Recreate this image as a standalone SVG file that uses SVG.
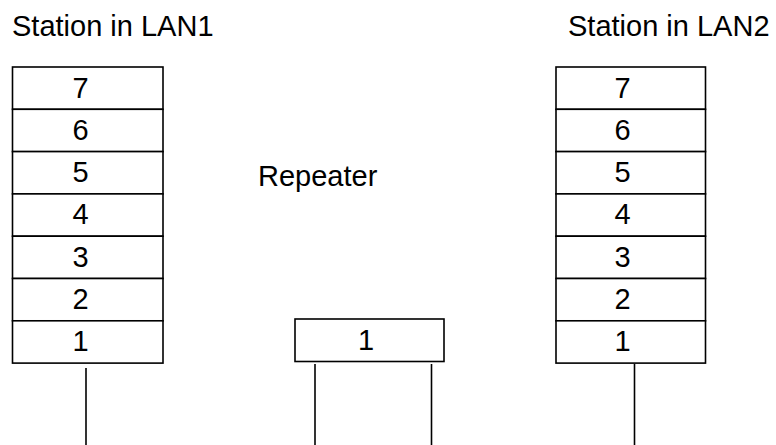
<svg xmlns="http://www.w3.org/2000/svg" width="776" height="445" viewBox="0 0 776 445">
<style>
.box{fill:#fff;stroke:#000;stroke-width:1.6}
.ln{stroke:#000;stroke-width:1.6;fill:none}
text{font-family:"Liberation Sans",Arial,sans-serif;font-size:29px;fill:#000}
.d{text-anchor:middle}
</style>
<rect width="776" height="445" fill="#fff"/>
<text x="12" y="36">Station in LAN1</text>
<text x="568" y="36">Station in LAN2</text>
<text x="258" y="186">Repeater</text>
<g id="station1">
<rect class="box" x="12.5" y="67" width="150.5" height="42.3"/>
<rect class="box" x="12.5" y="109.3" width="150.5" height="42.3"/>
<rect class="box" x="12.5" y="151.6" width="150.5" height="42.3"/>
<rect class="box" x="12.5" y="193.9" width="150.5" height="42.3"/>
<rect class="box" x="12.5" y="236.2" width="150.5" height="42.3"/>
<rect class="box" x="12.5" y="278.5" width="150.5" height="42.3"/>
<rect class="box" x="12.5" y="320.8" width="150.5" height="42.3"/>
<text class="d" x="80.5" y="97.5">7</text>
<text class="d" x="80.5" y="139.8">6</text>
<text class="d" x="80.5" y="182.1">5</text>
<text class="d" x="80.5" y="224.4">4</text>
<text class="d" x="80.5" y="266.7">3</text>
<text class="d" x="80.5" y="309">2</text>
<text class="d" x="80.5" y="351">1</text>
</g>
<g id="station2">
<rect class="box" x="556" y="67" width="149.5" height="42.3"/>
<rect class="box" x="556" y="109.3" width="149.5" height="42.3"/>
<rect class="box" x="556" y="151.6" width="149.5" height="42.3"/>
<rect class="box" x="556" y="193.9" width="149.5" height="42.3"/>
<rect class="box" x="556" y="236.2" width="149.5" height="42.3"/>
<rect class="box" x="556" y="278.5" width="149.5" height="42.3"/>
<rect class="box" x="556" y="320.8" width="149.5" height="42.3"/>
<text class="d" x="622.5" y="97.5">7</text>
<text class="d" x="622.5" y="139.8">6</text>
<text class="d" x="622.5" y="182.1">5</text>
<text class="d" x="622.5" y="224.4">4</text>
<text class="d" x="622.5" y="266.7">3</text>
<text class="d" x="622.5" y="309">2</text>
<text class="d" x="622.5" y="351">1</text>
</g>
<g id="repeater">
<rect class="box" x="295" y="319" width="149" height="42.5"/>
<text class="d" x="366" y="349.5">1</text>
</g>
<g id="connectors">
<line class="ln" x1="86" y1="368" x2="86" y2="445"/>
<line class="ln" x1="315" y1="364" x2="315" y2="445"/>
<line class="ln" x1="431.5" y1="364" x2="431.5" y2="445"/>
<line class="ln" x1="634.5" y1="364" x2="634.5" y2="445"/>
</g>
</svg>
